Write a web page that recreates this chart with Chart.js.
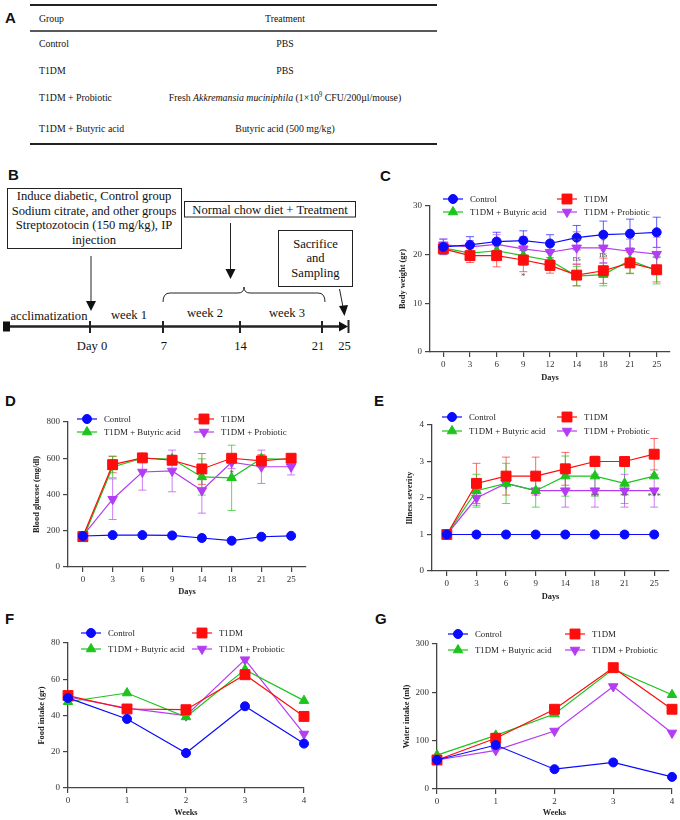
<!DOCTYPE html>
<html>
<head>
<meta charset="utf-8">
<script src="https://cdn.jsdelivr.net/npm/chart.js@4.4.1/dist/chart.umd.min.js"></script>
<style>
  body { margin: 0; background: #fff; }
  #page { position: relative; width: 680px; height: 820px; overflow: hidden; }
  #page svg { position: absolute; left: 0; top: 0; }
  #page canvas { position: absolute; }
  svg text { font-family: 'Liberation Serif', 'Times New Roman', serif; fill: #111; }
  svg .letter { font-family: 'Liberation Sans', Arial, sans-serif; font-weight: bold; font-size: 15px; }
</style>
</head>
<body>
<div id="page">
<svg width="680" height="820">
  <!-- panel letters -->
  <text class="letter" x="5" y="23">A</text>
  <text class="letter" x="8" y="180">B</text>
  <text class="letter" x="380" y="181">C</text>
  <text class="letter" x="5" y="406">D</text>
  <text class="letter" x="374" y="406">E</text>
  <text class="letter" x="5" y="624">F</text>
  <text class="letter" x="375" y="624">G</text>

  <!-- A: table (text squeezed horizontally like the original figure) -->
  <line x1="30" y1="5" x2="437" y2="5" stroke="#222" stroke-width="2"/>
  <line x1="30" y1="31" x2="437" y2="31" stroke="#222" stroke-width="1.5"/>
  <line x1="30" y1="144" x2="437" y2="144" stroke="#222" stroke-width="2"/>
  <g font-size="11.4" transform="scale(0.86,1)">
    <text x="45.3" y="22">Group</text>
    <text x="331.4" y="22" text-anchor="middle">Treatment</text>
    <text x="45.3" y="47">Control</text>
    <text x="331.4" y="47" text-anchor="middle">PBS</text>
    <text x="45.3" y="74">T1DM</text>
    <text x="331.4" y="74" text-anchor="middle">PBS</text>
    <text x="45.3" y="101">T1DM + Probiotic</text>
    <text x="331.4" y="101" text-anchor="middle">Fresh <tspan font-style="italic">Akkremansia muciniphila</tspan>  (1×10<tspan font-size="7.5" dy="-4">9</tspan><tspan dy="4"> CFU/200µl/mouse)</tspan></text>
    <text x="45.3" y="132">T1DM + Butyric acid</text>
    <text x="331.4" y="132" text-anchor="middle">Butyric acid (500 mg/kg)</text>
  </g>

  <!-- B: timeline diagram -->
  <g fill="none" stroke="#222">
    <rect x="7.5" y="188.5" width="174" height="60" stroke-width="1"/>
    <rect x="184.5" y="201.5" width="171" height="15.5" stroke-width="1"/>
    <rect x="278.5" y="230.5" width="74" height="56" stroke-width="1"/>
    <line x1="91" y1="256" x2="91" y2="302" stroke-width="1"/>
    <line x1="230.5" y1="223" x2="230.5" y2="270" stroke-width="1"/>
    <line x1="339.5" y1="289" x2="343" y2="307" stroke-width="1"/>
    <path d="M163,302 Q163,293 170,293 L238,293 Q244,293 244,287 Q244,293 250,293 L318,293 Q325,293 325,302" stroke-width="1"/>
    <line x1="6" y1="326.5" x2="341" y2="326.5" stroke-width="2.5"/>
    <line x1="90" y1="321" x2="90" y2="333" stroke-width="2"/>
    <line x1="163" y1="321" x2="163" y2="333" stroke-width="2"/>
    <line x1="240" y1="321" x2="240" y2="333" stroke-width="2"/>
    <line x1="322" y1="321" x2="322" y2="333" stroke-width="2"/>
    <line x1="348.5" y1="320" x2="348.5" y2="333" stroke-width="2"/>
  </g>
  <g fill="#111">
    <polygon points="86,301 96,301 91,311"/>
    <polygon points="225.5,269 235.5,269 230.5,279"/>
    <polygon points="339,306 348,305 344.5,316"/>
    <rect x="3" y="321.5" width="7" height="10"/>
    <polygon points="339,321.5 339,331.5 348,326.5"/>
  </g>
  <g font-size="12.6" text-anchor="middle">
    <text x="94" y="200">Induce diabetic, Control group</text>
    <text x="94" y="214.5">Sodium citrate, and other groups</text>
    <text x="94" y="229">Streptozotocin (150 mg/kg), IP</text>
    <text x="94" y="243.5">injection</text>
    <text x="270" y="213.5">Normal chow diet + Treatment</text>
    <text x="315.5" y="247.5">Sacrifice</text>
    <text x="315.5" y="262">and</text>
    <text x="315.5" y="277">Sampling</text>
    <text x="49" y="320">acclimatization</text>
    <text x="129" y="318.5">week 1</text>
    <text x="205" y="317">week 2</text>
    <text x="287" y="317">week 3</text>
    <text x="92" y="350">Day 0</text>
    <text x="164" y="350">7</text>
    <text x="240.5" y="350">14</text>
    <text x="318" y="350">21</text>
    <text x="344.5" y="350">25</text>
  </g>
</svg>
<canvas id="chartC"></canvas>
<canvas id="chartD"></canvas>
<canvas id="chartE"></canvas>
<canvas id="chartF"></canvas>
<canvas id="chartG"></canvas>
</div>

<script>
// ---- data ----
const groupNames = ['Control', 'T1DM', 'T1DM + Butyric acid', 'T1DM + Probiotic'];

// C: body weight (gr)
const daysC = ['0', '3', '6', '9', '12', '14', '18', '21', '25'];
const weightControl = [21.6, 22.0, 22.7, 22.9, 22.3, 23.5, 24.1, 24.3, 24.6];
const weightControlSd = [1.6, 1.7, 1.9, 2.0, 1.8, 2.5, 2.8, 3.0, 3.1];
const weightT1dm = [21.2, 19.8, 19.8, 18.9, 17.8, 15.8, 16.7, 18.3, 16.9];
const weightT1dmSd = [1.0, 1.4, 2.3, 2.4, 1.6, 2.2, 2.6, 2.2, 2.5];
const weightButyric = [21.4, 20.3, 20.8, 19.8, 18.8, 15.6, 15.9, 18.8, 16.8];
const weightButyricSd = [1.2, 1.2, 1.5, 2.0, 2.0, 2.0, 2.3, 2.6, 2.8];
const weightProbiotic = [22.0, 21.6, 22.1, 21.2, 20.5, 21.4, 21.4, 20.7, 20.1];
const weightProbioticSd = [1.2, 1.3, 2.0, 2.5, 1.5, 3.3, 3.0, 2.5, 3.5];
const weightMarks = [['9', 15.4, '*'], ['14', 22.6, '**'], ['14', 19.1, 'ns'], ['18', 22.7, '*'], ['18', 20.1, 'ns']];

// D: blood glucose (mg/dl)
const daysD = ['0', '3', '6', '9', '14', '18', '21', '25'];
const glucoseControl = [171, 176, 176, 174, 160, 145, 167, 172];
const glucoseControlSd = [12, 12, 10, 12, 15, 10, 10, 10];
const glucoseT1dm = [168, 565, 602, 589, 541, 600, 585, 600];
const glucoseT1dmSd = [25, 45, 20, 25, 85, 20, 35, 15];
const glucoseButyric = [155, 552, 600, 596, 497, 492, 598, 593];
const glucoseButyricSd = [10, 60, 15, 20, 100, 180, 15, 15];
const glucoseProbiotic = [172, 374, 524, 530, 422, 578, 553, 553];
const glucoseProbioticSd = [15, 112, 100, 115, 125, 35, 92, 45];
const glucoseMarks = [['18', 515, '*']];

// E: illness severity
const daysE = ['0', '3', '6', '9', '14', '18', '21', '25'];
const severityControl = [1, 1, 1, 1, 1, 1, 1, 1];
const severityT1dm = [1, 2.4, 2.6, 2.6, 2.8, 3.0, 3.0, 3.2];
const severityT1dmSd = [0, 0.55, 0.52, 0.52, 0.45, 0, 0, 0.43];
const severityButyric = [1, 2.2, 2.4, 2.2, 2.6, 2.6, 2.4, 2.6];
const severityButyricSd = [0, 0.45, 0.55, 0.45, 0.55, 0.55, 0.55, 0];
const severityProbiotic = [1, 2.0, 2.4, 2.2, 2.2, 2.2, 2.2, 2.2];
const severityProbioticSd = [0, 0.2, 0.05, 0, 0.45, 0.45, 0.45, 0.45];
const severityMarks = [['18', 2.03, '**'], ['21', 2.03, '**'], ['25', 2.03, '***']];

// F: food intake (gr)
const weeks = ['0', '1', '2', '3', '4'];
const foodControl = [49.7, 38.1, 19.3, 45.1, 24.5];
const foodT1dm = [51.0, 43.6, 43.2, 62.5, 39.5];
const foodButyric = [47.6, 52.4, 39.2, 65.3, 48.2];
const foodProbiotic = [50.2, 44.1, 39.9, 70.8, 29.8];

// G: water intake (ml)
const waterControl = [60, 91, 41, 55, 25];
const waterT1dm = [60, 105, 165, 251, 165];
const waterButyric = [70, 111, 155, 248, 195];
const waterProbiotic = [60, 80, 120, 212, 116];

// ---- styles ----
const colors = ['#0a0aff', '#ff0c0c', '#1cc41c', '#b43cf2'];
const barColors = ['rgba(40,40,255,0.75)', 'rgba(255,40,40,0.7)', 'rgba(30,200,30,0.7)', 'rgba(185,70,245,0.7)'];
const marker = [
  { pointStyle: 'circle', pointRadius: 4.5, pointRotation: 0 },
  { pointStyle: 'rect', pointRadius: 7, pointRotation: 0 },
  { pointStyle: 'triangle', pointRadius: 5.5, pointRotation: 0 },
  { pointStyle: 'triangle', pointRadius: 5.5, pointRotation: 180 }
];
const serif = "'Liberation Serif', 'Times New Roman', serif";
Chart.defaults.font.family = serif;
Chart.defaults.color = '#333';

function makeSets(series, sds) {
  return series.map((data, i) => ({
    label: groupNames[i],
    data: data,
    sd: sds ? sds[i] : null,
    barColor: barColors[i],
    borderColor: colors[i],
    backgroundColor: colors[i],
    pointBackgroundColor: colors[i],
    pointBorderColor: colors[i],
    pointBorderWidth: 1,
    borderWidth: 1.2,
    tension: 0,
    ...marker[i]
  }));
}

// error bars drawn from the sd arrays through the y scale
const errorBars = {
  id: 'errorBars',
  beforeDatasetsDraw(chart) {
    const { ctx } = chart;
    const y = chart.scales.y;
    chart.data.datasets.forEach((ds, i) => {
      if (!ds.sd) return;
      const meta = chart.getDatasetMeta(i);
      ctx.save();
      ctx.strokeStyle = ds.barColor;
      ctx.lineWidth = 1;
      meta.data.forEach((pt, j) => {
        const e = ds.sd[j];
        if (!e) return;
        const top = y.getPixelForValue(ds.data[j] + e);
        const bot = y.getPixelForValue(ds.data[j] - e);
        ctx.beginPath();
        ctx.moveTo(pt.x, top); ctx.lineTo(pt.x, bot);
        ctx.moveTo(pt.x - 4, top); ctx.lineTo(pt.x + 4, top);
        ctx.moveTo(pt.x - 4, bot); ctx.lineTo(pt.x + 4, bot);
        ctx.stroke();
      });
      ctx.restore();
    });
  }
};

// legend with a line through the marker, 2 x 2
const lineLegend = {
  id: 'lineLegend',
  afterDraw(chart, args, opts) {
    const { ctx, chartArea } = chart;
    ctx.save();
    ctx.font = '8.8px ' + serif;
    ctx.textBaseline = 'middle';
    chart.data.datasets.forEach((ds, i) => {
      const x = chartArea.left + opts.cols[i % 2];
      const y = chartArea.top + opts.rows[Math.floor(i / 2)];
      ctx.strokeStyle = ds.borderColor;
      ctx.lineWidth = 1.2;
      ctx.beginPath();
      ctx.moveTo(x - 10, y); ctx.lineTo(x + 10, y);
      ctx.stroke();
      ctx.fillStyle = ds.borderColor;
      ctx.lineWidth = 1;
      Chart.helpers.drawPoint(ctx, {
        pointStyle: ds.pointStyle, radius: ds.pointRadius, rotation: ds.pointRotation, borderWidth: 1
      }, x, y);
      ctx.fillStyle = '#222';
      ctx.fillText(ds.label, x + 17, y + 0.5);
    });
    ctx.restore();
  }
};

// significance marks
const sigMarks = {
  id: 'sigMarks',
  afterDatasetsDraw(chart, args, opts) {
    if (!opts.marks) return;
    const { ctx } = chart;
    const xs = chart.scales.x, ys = chart.scales.y;
    ctx.save();
    ctx.font = '9px ' + serif;
    ctx.fillStyle = '#555';
    ctx.textAlign = 'center';
    ctx.textBaseline = 'middle';
    opts.marks.forEach(([day, v, txt]) => {
      ctx.fillText(txt, xs.getPixelForValue(chart.data.labels.indexOf(day)), ys.getPixelForValue(v));
    });
    ctx.restore();
  }
};

// box = canvas [left, top, w, h]; area = [L, T, R, B] plot area in page px
function drawPanel(id, box, area, yTitleX, xTitleY, labels, sets, yCfg, xTitle, yTitle, offset, legend, marks) {
  const cv = document.getElementById(id);
  const [cl, ct, cw, ch] = box;
  const [L, T, R, B] = area;
  const lh = 10;
  cv.style.left = cl + 'px';
  cv.style.top = ct + 'px';
  cv.width = cw; cv.height = ch;
  const yLeft = yTitleX - lh / 2;
  const xBottom = xTitleY + lh / 2;
  const titleFont = { family: serif, size: 8.4, weight: 'bold', lineHeight: 1.2 };
  const tickFont = { family: serif, size: 9 };
  return new Chart(cv, {
    type: 'line',
    data: { labels: labels, datasets: sets },
    options: {
      responsive: false,
      animation: false,
      devicePixelRatio: 1,
      layout: { padding: { left: yLeft - cl, top: T - ct, right: cl + cw - R, bottom: ct + ch - xBottom } },
      plugins: {
        legend: { display: false },
        tooltip: { enabled: false },
        lineLegend: legend,
        sigMarks: { marks: marks }
      },
      scales: {
        x: {
          offset: offset,
          afterFit: s => { s.height = xBottom - B; },
          border: { display: true, color: '#444', width: 1.3 },
          grid: { drawOnChartArea: false, drawTicks: true, tickLength: 5, color: '#444', lineWidth: 1.2 },
          ticks: { font: tickFont, color: '#333', padding: 2, maxRotation: 0, autoSkip: false },
          title: { display: true, text: xTitle, font: titleFont, color: '#222', padding: 0 }
        },
        y: {
          min: yCfg[0], max: yCfg[1],
          afterFit: s => { s.width = L - yLeft; },
          border: { display: true, color: '#444', width: 1.3 },
          grid: { drawOnChartArea: false, drawTicks: true, tickLength: 5, color: '#444', lineWidth: 1.2 },
          ticks: { stepSize: yCfg[2], font: tickFont, color: '#333', padding: 3 },
          title: { display: true, text: yTitle, font: titleFont, color: '#222', padding: 0 }
        }
      }
    },
    plugins: [errorBars, lineLegend, sigMarks]
  });
}

drawPanel('chartC', [340, 185, 340, 205], [430, 206, 670, 352], 403, 378, daysC,
  makeSets([weightControl, weightT1dm, weightButyric, weightProbiotic],
           [weightControlSd, weightT1dmSd, weightButyricSd, weightProbioticSd]),
  [0, 30, 10], 'Days', 'Body weight (gr)', true, { cols: [23, 137], rows: [-7, 6] }, weightMarks);

drawPanel('chartD', [0, 405, 340, 205], [68, 422, 306, 567], 37, 592, daysD,
  makeSets([glucoseControl, glucoseT1dm, glucoseButyric, glucoseProbiotic],
           [glucoseControlSd, glucoseT1dmSd, glucoseButyricSd, glucoseProbioticSd]),
  [0, 800, 200], 'Days', 'Blood glucose (mg/dl)', true, { cols: [19, 136], rows: [-3, 10] }, glucoseMarks);

drawPanel('chartE', [340, 405, 340, 205], [432, 425, 669, 571], 410, 597, daysE,
  makeSets([severityControl, severityT1dm, severityButyric, severityProbiotic],
           [null, severityT1dmSd, severityButyricSd, severityProbioticSd]),
  [0, 4, 1], 'Days', 'Illness severity', true, { cols: [20, 135], rows: [-8, 6] }, severityMarks);

drawPanel('chartF', [0, 622, 340, 198], [68, 643, 304, 788], 42, 813, weeks,
  makeSets([foodControl, foodT1dm, foodButyric, foodProbiotic], null),
  [0, 80, 20], 'Weeks', 'Food intake (gr)', false, { cols: [23, 134], rows: [-10, 6] }, null);

drawPanel('chartG', [340, 622, 340, 198], [437, 644, 673, 789], 407, 813, weeks,
  makeSets([waterControl, waterT1dm, waterButyric, waterProbiotic], null),
  [0, 300, 100], 'Weeks', 'Water intake (ml)', false, { cols: [21, 138], rows: [-10, 6] }, null);
</script>
</body>
</html>
